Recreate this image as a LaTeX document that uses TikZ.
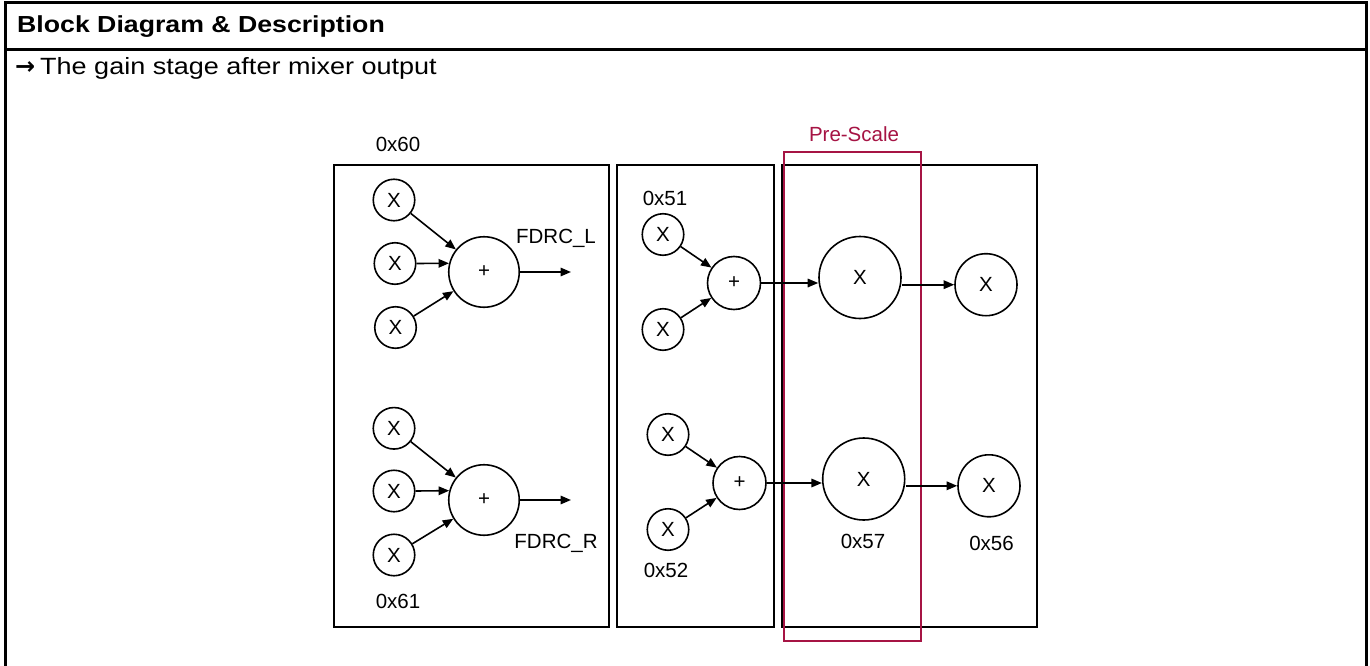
\documentclass[tikz,border=0pt]{standalone}
\usepackage{fontspec}
\setmainfont{Liberation Sans}
\newfontfamily\widefont[FakeStretch=1.15]{Liberation Sans}
\newfontfamily\arrowfont{DejaVu Sans}
\usetikzlibrary{arrows.meta}
\definecolor{prered}{RGB}{166,20,68}
\tikzset{
  frameline/.style={line width=3pt, line cap=rect},
  blockbox/.style={draw, line width=1.8pt},
  prebox/.style={draw=prered, line width=1.8pt},
  mul/.style={circle, draw, line width=1.6pt, inner sep=0pt, font=\fontsize{20.5}{24}\selectfont},
  smallmul/.style={mul, minimum size=41.5pt},
  midmul/.style={mul, minimum size=62pt},
  bigmul/.style={mul, minimum size=82pt},
  sumL/.style={mul, minimum size=70.5pt},
  sumS/.style={mul, minimum size=53pt},
  lbl/.style={anchor=base, inner sep=0pt, font=\fontsize{20.5}{24}\selectfont},
  arr/.style={line width=1.6pt, -{Triangle[length=10.5pt,width=8.5pt]}}
}
\begin{document}
\begin{tikzpicture}[x=1pt,y=-1pt]
\useasboundingbox (0,0) rectangle (1370,666);
\fill[white] (0,0) rectangle (1370,666);

% outer frame
\draw[frameline] (5,670) -- (5,3) -- (1366,3) -- (1366,670);
\draw[frameline] (5,50) -- (1366,50);
\node[anchor=base west, inner sep=0pt, font=\widefont\bfseries\fontsize{23.2}{28}\selectfont] (hdr) at (17,33) {Block Diagram \& Description};
\node[anchor=base west, inner sep=0pt, font=\arrowfont\bfseries\fontsize{24}{28}\selectfont] (bullet) at (15,75) {→};
\node[anchor=base west, inner sep=0pt, font=\widefont\fontsize{23.5}{28}\selectfont] (intro) at (40,75) {The gain stage after mixer output};

% blocks
\draw[blockbox] (334,165) rectangle (609,627);
\draw[blockbox] (617,165) rectangle (774,627);
\draw[blockbox] (782,165) rectangle (1037,627);
\draw[prebox] (784,152) rectangle (921,641);
\node[lbl, text=prered] (pre) at (854,141.7) {Pre-Scale};

% left block
\node[lbl] (l60) at (398,151.5) {0x60};
\node[smallmul] (m1) at (394,200) {X};
\node[smallmul] (m2) at (395,263.5) {X};
\node[smallmul] (m3) at (395.5,327.5) {X};
\node[sumL] (sL) at (484,272) {+};
\coordinate (oL) at (571,272);
\node[lbl] (fL) at (556,243) {FDRC\_L};
\draw[arr] (m1) -- (sL);
\draw[arr] (m2.east) -- (sL.166);
\draw[arr] (m3) -- (sL);
\draw[arr] (sL.east) -- (oL);

\node[smallmul] (m4) at (394,428.3) {X};
\node[smallmul] (m5) at (394,491) {X};
\node[smallmul] (m6) at (394,555) {X};
\node[sumL] (sR) at (484,500) {+};
\coordinate (oR) at (571,500);
\node[lbl] (fR) at (556,548) {FDRC\_R};
\node[lbl] (l61) at (398,608.3) {0x61};
\draw[arr] (m4) -- (sR);
\draw[arr] (m5.east) -- (sR.165);
\draw[arr] (m6) -- (sR);
\draw[arr] (sR.east) -- (oR);

% middle block
\node[lbl] (l51) at (665,205.5) {0x51};
\node[smallmul] (a1) at (663,234.5) {X};
\node[smallmul] (a2) at (663,329.5) {X};
\node[sumS] (sa) at (734,283) {+};
\draw[arr] (a1) -- (sa);
\draw[arr] (a2) -- (sa);

\node[smallmul] (a3) at (668,434.5) {X};
\node[smallmul] (a4) at (668,529.5) {X};
\node[sumS] (sb) at (739.5,483) {+};
\node[lbl] (l52) at (666,577) {0x52};
\draw[arr] (a3) -- (sb);
\draw[arr] (a4) -- (sb);

% right block
\node[bigmul] (b1) at (860,277.5) {X};
\node[midmul] (c1) at (986,284.7) {X};
\node[bigmul] (b2) at (863.7,479) {X};
\node[midmul] (c2) at (989,485.8) {X};
\node[lbl] (l57) at (863,548.5) {0x57};
\node[lbl] (l56) at (991.5,550) {0x56};

\draw[arr] (sa.east) -- (sa.east -| b1.west);
\draw[arr] (b1.east |- c1.west) -- (c1.west);
\draw[arr] (sb.east) -- (sb.east -| b2.west);
\draw[arr] (b2.east |- c2.west) -- (c2.west);
\end{tikzpicture}
\end{document}
